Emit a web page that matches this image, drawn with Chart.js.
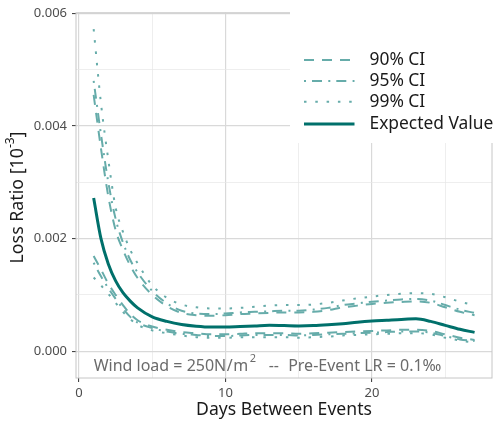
<!DOCTYPE html>
<html>
<head>
<meta charset="utf-8">
<script src="https://cdn.jsdelivr.net/npm/chart.js@4/dist/chart.umd.min.js"></script>
<style>
html,body{margin:0;padding:0;background:#fff;}
#wrap{width:500px;height:426px;position:relative;}
</style>
</head>
<body>
<div id="wrap"><canvas id="c" width="500" height="426"></canvas></div>
<script>
// ---- data ----
const days = [1,1.5,2,2.5,3,3.5,4,5,6,7,8,9,10,11,12,13,14,15,16,17,18,19,20,21,22,23,24,25,26,27];
const expectedValue = [0.00272,0.00200,0.00155,0.00125,0.00104,0.00089,0.00077,0.00061,0.00053,0.000475,0.000445,0.00043,0.00043,0.00044,0.00045,0.00046,0.000455,0.00045,0.000455,0.00047,0.00049,0.000515,0.000535,0.00055,0.000565,0.000575,0.00053,0.00046,0.00039,0.000335];
const upper90 = [0.00455,0.00360,0.00275,0.00215,0.00180,0.00152,0.00130,0.00100,0.00080,0.00068,0.00064,0.00063,0.00064,0.00066,0.00067,0.00068,0.00069,0.00069,0.00070,0.00073,0.00078,0.00081,0.00084,0.00086,0.000875,0.000885,0.00086,0.00078,0.00070,0.00064];
const lower90 = [0.00169,0.00145,0.00120,0.00100,0.00082,0.00066,0.00055,0.00044,0.00038,0.00034,0.00032,0.00030,0.00030,0.00031,0.00032,0.00032,0.00032,0.00031,0.00032,0.00033,0.00034,0.00035,0.00036,0.00037,0.00038,0.00038,0.00036,0.00030,0.00024,0.00020];
const upper95 = [0.00480,0.00385,0.00300,0.00235,0.00193,0.00162,0.00140,0.00107,0.00085,0.00072,0.00067,0.00066,0.00067,0.00069,0.00070,0.00071,0.00072,0.00072,0.00074,0.00077,0.00082,0.00085,0.00088,0.00090,0.00092,0.00093,0.00090,0.00082,0.00074,0.00068];
const lower95 = [0.00157,0.00133,0.00112,0.00093,0.00076,0.00061,0.00051,0.00041,0.00035,0.00031,0.00029,0.00027,0.00027,0.00028,0.00029,0.00029,0.00029,0.00028,0.00029,0.00030,0.00031,0.00032,0.00033,0.00034,0.00035,0.00035,0.00033,0.00027,0.00021,0.00018];
const upper99 = [0.00572,0.00440,0.00340,0.00255,0.00212,0.00180,0.00156,0.00117,0.00095,0.00083,0.00078,0.00076,0.00076,0.00077,0.00079,0.00081,0.00082,0.00082,0.00083,0.00086,0.00090,0.00094,0.00097,0.00100,0.00102,0.00103,0.00102,0.00096,0.00088,0.00082];
const lower99 = [0.00131,0.00117,0.00102,0.00086,0.00070,0.00057,0.00047,0.00037,0.00032,0.00028,0.00025,0.00024,0.00024,0.00025,0.00025,0.00025,0.00025,0.00024,0.00025,0.00026,0.00028,0.00029,0.00030,0.00031,0.00032,0.00032,0.00030,0.00024,0.00019,0.00015];

const xTickValues = [0,5,10,15,20,25];
const xTickLabels = ['0','','10','','20',''];
const yTickValues = [0,0.001,0.002,0.003,0.004,0.005,0.006];
const yTickLabels = ['0.000','','0.002','','0.004','','0.006'];

const legendLabels = ['90% CI','95% CI','99% CI','Expected Value'];
const annotationParts = ['Wind load = 250N', '/', 'm', '2', '--', 'Pre-Event LR = 0.1\u2030'];
const yTitleParts = ['Loss Ratio [10', '-3', ']'];
const xTitle = 'Days Between Events';

// ---- styles ----
const FONT = '"Noto Sans", "Open Sans", "DejaVu Sans", sans-serif';
const CI_COLOR = '#66acaa';
const EV_COLOR = '#00706b';
const DASH90 = [10, 8];
const DASH95 = [2, 6, 10, 6.3];
const DASH99 = [2.5, 8.8];

function pts(arr){ return days.map((d,i)=>({x:d, y:arr[i]})); }
function ciSet(label, arr, dash){
  return {label, data: pts(arr), borderColor: CI_COLOR, borderWidth: 2, borderDash: dash,
    pointRadius: 0, cubicInterpolationMode: 'monotone', fill: false, order: 2};
}

const datasets = [
  {label:'Expected Value', data: pts(expectedValue), borderColor: EV_COLOR, borderWidth: 3,
   pointRadius: 0, cubicInterpolationMode: 'monotone', fill: false, order: 1},
  ciSet('90% CI', upper90, DASH90),
  ciSet('90% CI', lower90, DASH90),
  ciSet('95% CI', upper95, DASH95),
  ciSet('95% CI', lower95, DASH95),
  ciSet('99% CI', upper99, DASH99),
  ciSet('99% CI', lower99, DASH99)
];

const legendStyles = [
  {color: CI_COLOR, width: 2, dash: DASH90},
  {color: CI_COLOR, width: 2, dash: DASH95},
  {color: CI_COLOR, width: 2, dash: DASH99},
  {color: EV_COLOR, width: 3, dash: []}
];

const panelPlugin = {
  id: 'panel',
  beforeDatasetsDraw(chart){
    const {ctx, chartArea: a} = chart;
    ctx.save();
    ctx.strokeStyle = '#c6c6c6';
    ctx.lineWidth = 1;
    ctx.strokeRect(a.left, a.top, a.right - a.left, a.bottom - a.top);
    ctx.restore();
  },
  afterDatasetsDraw(chart){
    const {ctx} = chart;
    const xs = chart.scales.x, ys = chart.scales.y;
    const x0 = xs.getPixelForValue(1);
    const base = ys.getPixelForValue(-0.000352);
    // offsets of each piece from the annotation anchor
    const offs = [0, 133, 139.5, 156, 175, 194.5];
    ctx.save();
    ctx.fillStyle = '#6b6b6b';
    ctx.textBaseline = 'alphabetic';
    ctx.textAlign = 'left';
    annotationParts.forEach((t, i) => {
      const sup = i === 3;
      ctx.font = (sup ? '11px ' : '16px ') + FONT;
      ctx.fillText(t, x0 + offs[i], base - (sup ? 9.5 : 0));
    });
    ctx.restore();
  },
  afterDraw(chart){
    const {ctx} = chart;
    ctx.save();
    // y-axis title with superscript
    ctx.translate(18, 197.5);
    ctx.rotate(-Math.PI / 2);
    ctx.fillStyle = '#1a1a1a';
    ctx.textBaseline = 'middle';
    ctx.textAlign = 'left';
    const big = '17.8px ' + FONT, small = '12px ' + FONT;
    ctx.font = big; const w0 = ctx.measureText(yTitleParts[0]).width;
    ctx.font = small; const w1 = ctx.measureText(yTitleParts[1]).width;
    ctx.font = big; const w2 = ctx.measureText(yTitleParts[2]).width;
    let tx = -(w0 + w1 + w2) / 2;
    ctx.font = big; ctx.fillText(yTitleParts[0], tx, 0); tx += w0;
    ctx.font = small; ctx.fillText(yTitleParts[1], tx, -7.5); tx += w1;
    ctx.font = big; ctx.fillText(yTitleParts[2], tx, 0);
    ctx.restore();

    ctx.save();
    ctx.fillStyle = '#ffffff';
    ctx.fillRect(290, 12, 215, 131);
    const rows = [60, 81, 101.7, 124];
    legendLabels.forEach((lab, i) => {
      const s = legendStyles[i];
      ctx.beginPath();
      ctx.setLineDash(s.dash);
      ctx.strokeStyle = s.color;
      ctx.lineWidth = s.width;
      ctx.moveTo(304, rows[i]);
      ctx.lineTo(354.5, rows[i]);
      ctx.stroke();
      ctx.setLineDash([]);
      ctx.fillStyle = '#1a1a1a';
      ctx.font = '17.4px ' + FONT;
      ctx.textBaseline = 'middle';
      ctx.textAlign = 'left';
      ctx.fillText(lab, 369.5, rows[i] + 0.5);
    });
    ctx.restore();
  }
};

const majorX = v => xTickLabels[xTickValues.indexOf(v)] !== '';
const majorY = v => { const i = yTickValues.findIndex(t => Math.abs(t - v) < 1e-9); return i >= 0 && yTickLabels[i] !== ''; };

new Chart(document.getElementById('c'), {
  type: 'line',
  data: { datasets },
  options: {
    responsive: false,
    animation: false,
    devicePixelRatio: 1,
    layout: { padding: { top: 9.5, right: 8, left: 0, bottom: 0 } },
    plugins: { legend: { display: false }, tooltip: { enabled: false } },
    scales: {
      x: {
        type: 'linear', min: -0.205, max: 28.19,
        afterBuildTicks(s){ s.ticks = xTickValues.map(v => ({value: v})); },
        afterFit(s){ s.height = 48; },
        border: { display: false },
        grid: {
          color: c => majorX(c.tick.value) ? '#d9d9d9' : '#e6e6e6',
          lineWidth: c => majorX(c.tick.value) ? 1.2 : 0.7,
          tickColor: c => majorX(c.tick.value) ? '#333333' : 'rgba(0,0,0,0)',
          tickLength: 4, tickWidth: 1
        },
        ticks: {
          autoSkip: false, maxRotation: 0, padding: 3,
          color: '#4d4d4d', font: { family: FONT, size: 13 },
          callback: v => { const i = xTickValues.indexOf(v); return i >= 0 ? xTickLabels[i] : ''; }
        },
        title: { display: true, text: xTitle, color: '#1a1a1a',
          font: { family: FONT, size: 17.6 }, padding: { top: 0, bottom: 5 } }
      },
      y: {
        type: 'linear', min: -0.000475, max: 0.006009,
        afterBuildTicks(s){ s.ticks = yTickValues.map(v => ({value: v})); },
        afterFit(s){ s.width = 76; },
        border: { display: false },
        grid: {
          color: c => majorY(c.tick.value) ? '#d9d9d9' : '#e6e6e6',
          lineWidth: c => majorY(c.tick.value) ? 1.2 : 0.7,
          tickColor: c => majorY(c.tick.value) ? '#333333' : 'rgba(0,0,0,0)',
          tickLength: 4, tickWidth: 1
        },
        ticks: {
          autoSkip: false, padding: 5,
          color: '#4d4d4d', font: { family: FONT, size: 13 },
          callback: v => { const i = yTickValues.findIndex(t => Math.abs(t - v) < 1e-9); return i >= 0 ? yTickLabels[i] : ''; }
        },
        title: { display: false }
      }
    }
  },
  plugins: [panelPlugin]
});
</script>
</body>
</html>
